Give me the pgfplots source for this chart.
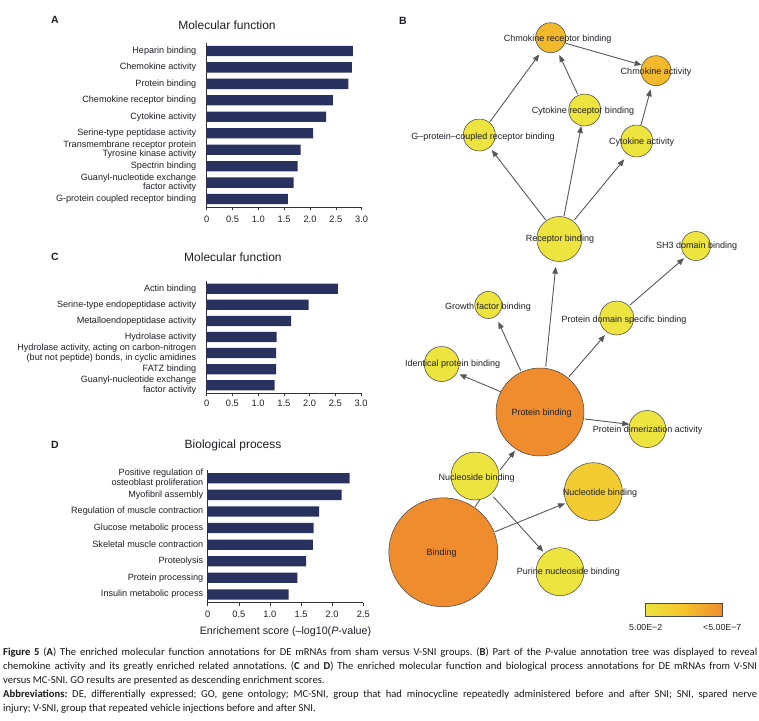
\documentclass[border=0pt]{standalone}
\usepackage{fontspec}
\setmainfont{Liberation Sans}
\newfontfamily\capfont{Carlito}
\usepackage{pgfplots}
\pgfplotsset{compat=1.18}
\usepackage{pgfplotstable}
\usetikzlibrary{arrows.meta}

\definecolor{barc}{RGB}{41,49,94}
\definecolor{edgec}{RGB}{88,88,88}
\definecolor{txt}{RGB}{30,30,40}
\definecolor{darkorng}{RGB}{205,118,48}

% network nodes: centre, radius, colour value (0 = yellow, 1 = orange)
\pgfplotstableread[col sep=comma]{
x,y,r,c
550.7,-37.7,15,0.6
656,-70.7,15,0.6
584.7,-110,16,0
479.3,-135,16,0
636.7,-141,16,0
559.3,-239,22.5,0
696,-246,14.5,0
488.3,-305,13.5,0
616.7,-318,17,0
441.7,-364,17.5,0
540,-412,44,1
647.3,-429,18.5,0
475,-476,24,0
593.3,-491.7,29,0.38
443.3,-552.3,54.5,1
560,-571.7,24,0
}\nodetab

\pgfplotstableread[col sep=comma]{
x,y,lab
557.7,-39,Chmokine receptor binding
656,-71.7,Chmokine activity
583,-110.7,Cytokine receptor binding
483,-136.7,G–protein–coupled receptor binding
641.7,-142,Cytokine activity
560,-239,Receptor binding
696.7,-246,SH3 domain binding
488,-306.7,Growth factor binding
624,-320.5,Protein domain specific binding
452.7,-364,Identical protein binding
541.7,-413,Protein binding
647.7,-430,Protein dimerization activity
476.7,-477.7,Nucleoside binding
600,-492.7,Nucleotide binding
441.7,-553,Binding
568.3,-572,Purine nucleoside binding
}\labtab

% edges: start point and vector to the arrow tip
\pgfplotstableread[col sep=comma]{
x,y,u,v
490,-121.7,49.3,67.4
577.7,-94.3,-18.4,39.3
565.7,-43.3,76,-21.7
641,-125,9.7,35.7
545.7,-220,-54,70
564,-216,17.3,90
574.3,-220,50,60.7
545.7,-366.7,10,100
520.7,-370.7,-22.4,49
630,-305,54,46.7
569,-376.7,36,41.7
500.7,-391.7,-41.4,17.4
585,-419,44.3,-5.3
500,-470,15,19.3
495,-531.7,70,28.4
493.3,-496.7,50,-55
}\edgetab

\pgfplotsset{
  barax/.style={
    scale only axis, xbar, bar width=10.3pt,
    axis lines*=left, axis line style={-, black!80, line width=0.6pt},
    xmin=0, ymin=-0.5, enlargelimits=false, clip=false,
    tick align=outside, major tick length=3pt,
    xtick style={black!80, line width=0.6pt}, ytick style={draw=none},
    xticklabel style={font=\fontsize{9.3}{11}\selectfont, text=txt, yshift=-2pt},
    yticklabel style={font=\fontsize{9.1}{9.7}\selectfont, text=txt, align=right},
    title style={font=\fontsize{12}{14}\selectfont, text=txt, anchor=center},
  }
}

\begin{document}
\frenchspacing
\begin{tikzpicture}
\path[use as bounding box] (0,0) rectangle (759pt,-720pt);

% ---------- A ----------
\begin{axis}[barax, at={(206.7pt,-207.3pt)}, anchor=south west,
  width=155pt, height=164.6pt, xmax=3, ymax=9.5,
  xtick={0,0.5,1,1.5,2,2.5,3}, xticklabels={0,0.5,1.0,1.5,2.0,2.5,3.0},
  ytick={0,...,9},
  yticklabels={G-protein coupled receptor binding,
    {Guanyl-nucleotide exchange\\factor activity},
    Spectrin binding,
    {Transmembrane receptor protein\\Tyrosine kinase activity},
    Serine-type peptidase activity, Cytokine activity,
    Chemokine receptor binding, Protein binding,
    Chemokine activity, Heparin binding},
  yticklabel style={xshift=-4pt},
  title=Molecular function,
  title style={at={(axis description cs:0.131,1)}, yshift=11.7pt}]
\addplot[fill=barc, draw=none] coordinates {
  (1.57,0) (1.68,1) (1.76,2) (1.82,3) (2.06,4)
  (2.31,5) (2.44,6) (2.74,7) (2.81,8) (2.83,9)};
\end{axis}

% ---------- C ----------
\begin{axis}[barax, at={(206.7pt,-393.3pt)}, anchor=south west,
  width=154.3pt, height=112.6pt, xmax=3, ymax=6.5,
  xtick={0,0.5,1,1.5,2,2.5,3}, xticklabels={0,0.5,1.0,1.5,2.0,2.5,3.0},
  xticklabel style={yshift=1.5pt},
  ytick={0,...,6},
  yticklabels={{Guanyl-nucleotide exchange\\factor activity},
    FATZ binding,
    {Hydrolase activity, acting on carbon-nitrogen\\(but not peptide) bonds, in cyclic amidines},
    Hydrolase activity, Metalloendopeptidase activity,
    Serine-type endopeptidase activity, Actin binding},
  yticklabel style={xshift=-4pt},
  title=Molecular function,
  title style={at={(axis description cs:0.170,1)}, yshift=17.7pt}]
\addplot[fill=barc, draw=none] coordinates {
  (1.32,0) (1.35,1) (1.35,2) (1.36,3) (1.64,4) (1.98,5) (2.55,6)};
\end{axis}

% ---------- D ----------
\begin{axis}[barax, at={(207.7pt,-602.7pt)}, anchor=south west,
  width=155.6pt, height=132.7pt, xmax=2.5, ymax=7.5,
  xtick={0,0.5,1,1.5,2,2.5}, xticklabels={0,0.5,1.0,1.5,2.0,2.5},
  ytick={0,...,7},
  yticklabels={Insulin metabolic process, Protein processing, Proteolysis,
    Skeletal muscle contraction, Glucose metabolic process,
    Regulation of muscle contraction, Myofibril assembly,
    {Positive regulation of\\osteoblast proliferation}},
  yticklabel style={xshift=2pt},
  title=Biological process,
  title style={at={(axis description cs:0.163,1)}, yshift=19pt},
  xlabel={Enrichement score (–log10(\textit{P}-value)},
  xlabel style={font=\fontsize{10.7}{12}\selectfont, text=txt,
    at={(axis description cs:0.5,0)}, anchor=center, yshift=-29pt}]
\addplot[fill=barc, draw=none] coordinates {
  (1.30,0) (1.44,1) (1.58,2) (1.69,3) (1.70,4) (1.79,5) (2.15,6) (2.28,7)};
\end{axis}

% ---------- B ----------
\begin{axis}[at={(380pt,0pt)}, anchor=north west,
  x=1pt, y=1pt, xmin=380, xmax=759, ymin=-640, ymax=0,
  axis lines=none, clip=false,
  colormap={net}{rgb255=(237,228,63) rgb255=(244,196,44) rgb255=(238,140,46)},
  point meta min=0, point meta max=1,
  colorbar horizontal,
  colorbar style={scale only axis, axis lines=box,
    at={(0.701,0.0573)}, anchor=north west,
    width=76.6pt, height=13.4pt,
    axis line style={black!70, line width=0.6pt},
    xtick={0,1}, xticklabels={5.00E−2,<5.00E−7},
    major tick length=0pt,
    xticklabel style={font=\fontsize{8.8}{10}\selectfont, text=txt,
      anchor=center, yshift=-10.6pt}}]
\addplot[edgec, line width=0.9pt,
  quiver={u=\thisrow{u}, v=\thisrow{v},
    every arrow/.append style={-{Triangle[length=7pt,width=5.5pt]}}}]
  table[x=x, y=y] {\edgetab};
\addplot[edgec, line width=0.9pt] coordinates {(475,-507) (481,-498)};
\addplot[scatter, only marks, mark=*, point meta=\thisrow{c},
  scatter/use mapped color={draw=black!75, fill=mapped color},
  visualization depends on={\thisrow{r}\as\rad},
  scatter/@pre marker code/.append style={/tikz/mark size=\rad pt},
  mark options={line width=0.5pt}]
  table[x=x, y=y] {\nodetab};
\addplot[darkorng, line width=0.4pt,
  quiver={u=5, v=6, every arrow/.append style={-{Triangle[length=6pt,width=5pt]}}}]
  coordinates {(456,-515)};
\addplot[only marks, mark=none, point meta=explicit symbolic,
  nodes near coords,
  every node near coord/.style={anchor=center, inner sep=0pt,
    font=\fontsize{9}{10}\selectfont, text=txt}]
  table[x=x, y=y, meta=lab] {\labtab};
\end{axis}

% panel letters
\begin{scope}[every node/.style={font=\bfseries\fontsize{10.5}{12}\selectfont, text=txt}]
\node at (55pt,-20pt) {A};
\node at (403pt,-21pt) {B};
\node at (55pt,-257pt) {C};
\node at (55pt,-445pt) {D};
\end{scope}

% caption
\node[anchor=north west, inner sep=0pt, text width=754pt, align=justify,
  font=\capfont\fontsize{10.6}{13.8}\selectfont\frenchspacing, text=black!90] at (3pt,-648pt) {%
\textbf{Figure 5} (\textbf{A}) The enriched molecular function annotations for DE mRNAs from sham versus V-SNI groups. (\textbf{B}) Part of the \textit{P}-value annotation tree was displayed to reveal\linebreak
chemokine activity and its greatly enriched related annotations. (\textbf{C} and \textbf{D}) The enriched molecular function and biological process annotations for DE mRNAs from V-SNI\linebreak
versus MC-SNI. GO results are presented as descending enrichment scores.\newline
\textbf{Abbreviations:} DE, differentially expressed; GO, gene ontology; MC-SNI, group that had minocycline repeatedly administered before and after SNI; SNI, spared nerve\linebreak
injury; V-SNI, group that repeated vehicle injections before and after SNI.};
\end{tikzpicture}
\end{document}
